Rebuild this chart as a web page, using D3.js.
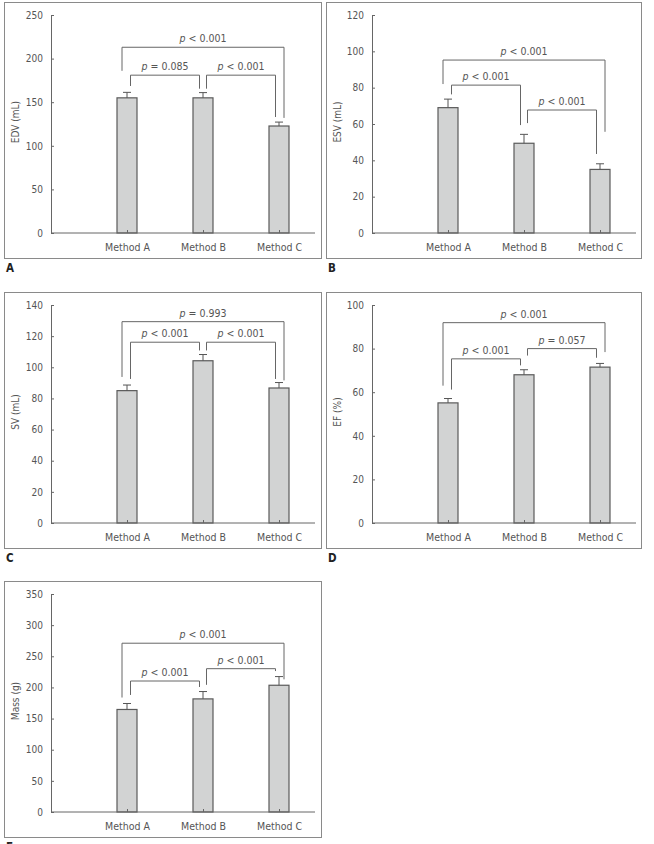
<!DOCTYPE html>
<html>
<head>
<meta charset="utf-8">
<script src="https://cdn.jsdelivr.net/npm/d3@7"></script>
<style>
body { margin: 0; background: #fff; }
svg text { font-family: "DejaVu Sans Condensed", "DejaVu Sans", sans-serif; font-stretch: condensed; fill: #555; }
</style>
</head>
<body>
<div id="chart"></div>
<script>
// Categories shared by all panels
var methods = ["Method A", "Method B", "Method C"];

// Panel A - EDV (mL)
var edvMean = [155, 155, 122.7];
var edvSd = [6.3, 6, 4.5];
var edvTicks = [0, 50, 100, 150, 200, 250];
// brackets: [from, to, level, left leg end, right leg end, operator, p value]
var edvBrackets = [
    [0, 2, 213, 186, 132, "<", "0.001"],
    [0, 1, 181, 168.6, 165.5, "=", "0.085"],
    [1, 2, 181, 165.5, 133, "<", "0.001"]
];

// Panel B - ESV (mL)
var esvMean = [69, 49.4, 35];
var esvSd = [4.7, 4.9, 3.1];
var esvTicks = [0, 20, 40, 60, 80, 100, 120];
var esvBrackets = [
    [0, 2, 95.2, 82, 55.7, "<", "0.001"],
    [0, 1, 81.4, 76.3, 59.4, "<", "0.001"],
    [1, 2, 67.7, 60.5, 43.5, "<", "0.001"]
];

// Panel C - SV (mL)
var svMean = [85, 104.2, 86.7];
var svSd = [3.6, 4, 3.5];
var svTicks = [0, 20, 40, 60, 80, 100, 120, 140];
var svBrackets = [
    [0, 2, 129.3, 93.8, 91.6, "=", "0.993"],
    [0, 1, 116.1, 92.5, 110.8, "<", "0.001"],
    [1, 2, 116.1, 110.8, 92.5, "<", "0.001"]
];

// Panel D - EF (%)
var efMean = [55.1, 68, 71.5];
var efSd = [2, 2.3, 1.7];
var efTicks = [0, 20, 40, 60, 80, 100];
var efBrackets = [
    [0, 2, 91.9, 63, 78.4, "<", "0.001"],
    [0, 1, 75.3, 61.2, 72.3, "<", "0.001"],
    [1, 2, 80, 76.8, 75.8, "=", "0.057"]
];

// Panel E - Mass (g)
var massMean = [164.6, 181.6, 203.5];
var massSd = [9.6, 11.8, 13.9];
var massTicks = [0, 50, 100, 150, 200, 250, 300, 350];
var massBrackets = [
    [0, 2, 271, 183.8, 213, "<", "0.001"],
    [0, 1, 210.3, 187.9, 200.7, "<", "0.001"],
    [1, 2, 230.1, 204.2, 226.3, "<", "0.001"]
];

var width = 654;
var height = 844;

var svg = d3.select("#chart").append("svg")
    .attr("width", width)
    .attr("height", height);

// Draw one boxed bar chart panel
function drawPanel(left, top, boxW, axisX, letter, title, means, sds, ticks, brackets) {
    var boxH = 256;
    var g = svg.append("g").attr("transform", "translate(" + left + "," + top + ")");

    // frame
    g.append("rect")
        .attr("x", 0.5).attr("y", 0.5)
        .attr("width", boxW).attr("height", boxH)
        .attr("fill", "none")
        .attr("stroke", "#8a8a8a")
        .attr("stroke-width", 1);

    // panel letter
    g.append("text")
        .attr("x", 2)
        .attr("y", boxH + 14)
        .style("font-size", "11.5px")
        .style("font-weight", "bold")
        .style("fill", "#222")
        .text(letter);

    var y = d3.scaleLinear()
        .domain([0, ticks[ticks.length - 1]])
        .range([231, 13]);

    var x = d3.scalePoint()
        .domain(methods)
        .range([axisX + 76, axisX + 228]);

    // y axis, ticks pointing inward
    var yAxis = g.append("g")
        .attr("transform", "translate(" + axisX + ",0)")
        .call(d3.axisLeft(y).tickValues(ticks).tickSizeInner(-3).tickSizeOuter(0).tickPadding(8));
    yAxis.selectAll("text").style("font-size", "10px");

    // bars
    var barW = 20;
    g.selectAll(".bar")
        .data(means)
        .enter().append("rect")
        .attr("class", "bar")
        .attr("x", function(d, i) { return x(methods[i]) - barW / 2; })
        .attr("y", function(d) { return y(d); })
        .attr("width", barW)
        .attr("height", function(d) { return y(0) - y(d); })
        .attr("fill", "#d2d3d3")
        .attr("stroke", "#5a5a5a")
        .attr("stroke-width", 1.2);

    // x axis
    var xAxis = g.append("g")
        .attr("transform", "translate(0," + y(0) + ")")
        .call(d3.axisBottom(x).tickSizeInner(-3).tickSizeOuter(0).tickPadding(11));
    xAxis.select(".domain").remove();
    xAxis.selectAll("text").style("font-size", "10.5px");
    xAxis.selectAll("line").attr("stroke", "#666");
    g.append("line")
        .attr("x1", axisX).attr("x2", axisX + 264)
        .attr("y1", y(0)).attr("y2", y(0))
        .attr("stroke", "#666");

    yAxis.selectAll("line, path").attr("stroke", "#666");

    // error bars (upper only)
    var err = g.selectAll(".err")
        .data(means)
        .enter().append("g")
        .attr("class", "err");
    err.append("line")
        .attr("x1", function(d, i) { return x(methods[i]); })
        .attr("x2", function(d, i) { return x(methods[i]); })
        .attr("y1", function(d) { return y(d); })
        .attr("y2", function(d, i) { return y(d + sds[i]); })
        .attr("stroke", "#555");
    err.append("line")
        .attr("x1", function(d, i) { return x(methods[i]) - 4; })
        .attr("x2", function(d, i) { return x(methods[i]) + 4; })
        .attr("y1", function(d, i) { return y(d + sds[i]); })
        .attr("y2", function(d, i) { return y(d + sds[i]); })
        .attr("stroke", "#555");

    // axis title
    g.append("text")
        .attr("transform", "translate(11," + 120 + ") rotate(-90)")
        .attr("text-anchor", "middle")
        .attr("dy", "0.35em")
        .style("font-size", "10px")
        .text(title);

    // significance brackets
    brackets.forEach(function(b) {
        var outer = (b[1] - b[0]) === 2;
        var lx = x(methods[b[0]]) + (outer ? -5 : 3.5);
        var rx = x(methods[b[1]]) + (outer ? 5 : -3.5);
        g.append("path")
            .attr("d", "M" + lx + "," + y(b[3]) + "V" + y(b[2]) + "H" + rx + "V" + y(b[4]))
            .attr("fill", "none")
            .attr("stroke", "#666")
            .attr("stroke-width", 1);
        var t = g.append("text")
            .attr("x", (lx + rx) / 2)
            .attr("y", y(b[2]) - 5)
            .attr("text-anchor", "middle")
            .style("font-size", "10.5px");
        t.append("tspan").style("font-style", "italic").text("p");
        t.append("tspan").text(" " + b[5] + " " + b[6]);
    });
}

drawPanel(4, 2, 317, 47, "A", "EDV (mL)", edvMean, edvSd, edvTicks, edvBrackets);
drawPanel(326, 2, 315, 46, "B", "ESV (mL)", esvMean, esvSd, esvTicks, esvBrackets);
drawPanel(4, 292, 317, 47, "C", "SV (mL)", svMean, svSd, svTicks, svBrackets);
drawPanel(326, 292, 315, 46, "D", "EF (%)", efMean, efSd, efTicks, efBrackets);
drawPanel(4, 581, 317, 47, "E", "Mass (g)", massMean, massSd, massTicks, massBrackets);
</script>
</body>
</html>
